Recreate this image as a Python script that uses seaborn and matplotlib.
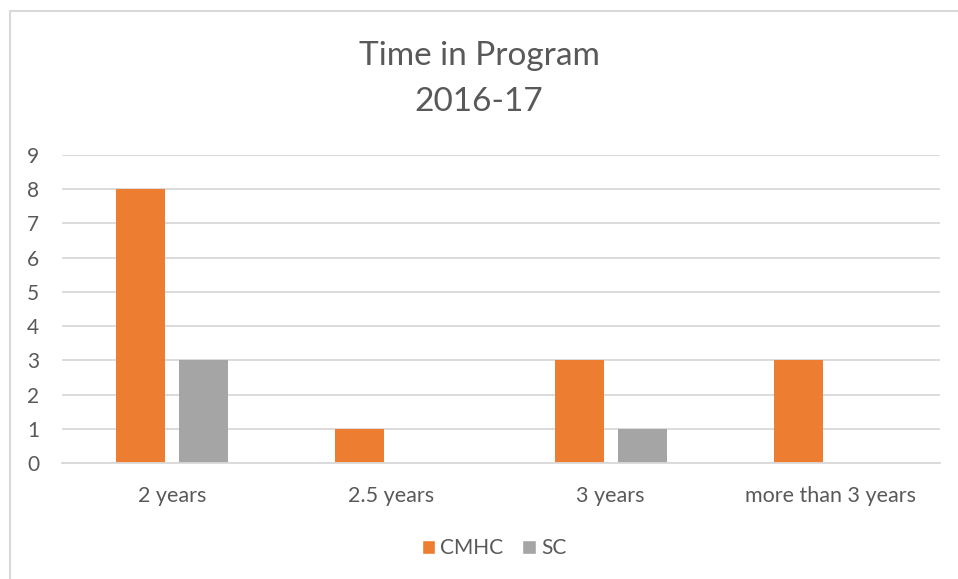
import matplotlib
matplotlib.use("Agg")
import matplotlib.pyplot as plt
import seaborn as sns
import pandas as pd
from matplotlib.patches import Rectangle, Patch

categories = ["2 years", "2.5 years", "3 years", "more than 3 years"]
cmhc = [8, 1, 3, 3]
sc = [3, 0, 1, 0]
series = ["CMHC", "SC"]
yticks = [0, 1, 2, 3, 4, 5, 6, 7, 8, 9]

df = pd.DataFrame({
    "category": categories * 2,
    "value": cmhc + sc,
    "series": [series[0]] * len(categories) + [series[1]] * len(categories),
})

sns.set_theme(style="white")
plt.rcParams['font.family'] = ['Lato', 'DejaVu Sans']
text_color = "#595959"

fig = plt.figure(figsize=(9.58, 5.79), dpi=100)
ax = fig.add_axes([62/958, (579-463)/579, (940-62)/958, (463-155)/579])

sns.barplot(data=df, x="category", y="value", hue="series",
            palette=["#ED7D31", "#A5A5A5"], width=0.574, gap=0.223,
            saturation=1, ax=ax, legend=False, linewidth=0)

ax.set_ylim(0, 9)
ax.set_xlim(-0.5, 3.5)
ax.set_yticks(yticks)
ax.set_yticklabels([str(t) for t in yticks])
ax.yaxis.grid(True, color="#D9D9D9", linewidth=1.3)
ax.set_axisbelow(True)
for s in ["top", "right", "left"]:
    ax.spines[s].set_visible(False)
ax.spines["bottom"].set_color("#D9D9D9")
ax.spines["bottom"].set_linewidth(1.3)
ax.set_xlabel("")
ax.set_ylabel("")
ax.tick_params(axis="both", length=0, labelsize=15, colors=text_color)
ax.tick_params(axis="x", labelsize=15.5)
ax.tick_params(axis="y", pad=25)
ax.tick_params(axis="x", pad=16.5)
for lbl in ax.get_yticklabels():
    lbl.set_horizontalalignment("left")

fig.text(0.5, 1 - 56/579, "Time in Program", ha="center", va="center",
         fontsize=24, color=text_color)
fig.text(0.5, 1 - 102/579, "2016-17", ha="center", va="center",
         fontsize=24, color=text_color)

handles = [Patch(facecolor="#ED7D31", label="CMHC"), Patch(facecolor="#A5A5A5", label="SC")]
fig.legend(handles=handles, loc="center", bbox_to_anchor=(494/958, 1 - 548/579),
           ncol=2, frameon=False, fontsize=15, handlelength=0.65, handleheight=0.65,
           handletextpad=0.25, columnspacing=0.9, labelcolor=text_color)

# chart border (extends beyond right and bottom edges)
fig.patches.append(Rectangle((9.5/958, -0.1), 1.2, 1.1 - 10.5/579, transform=fig.transFigure,
                             fill=False, edgecolor="#D9D9D9", linewidth=1.5))

fig.savefig("out.png", dpi=100)
